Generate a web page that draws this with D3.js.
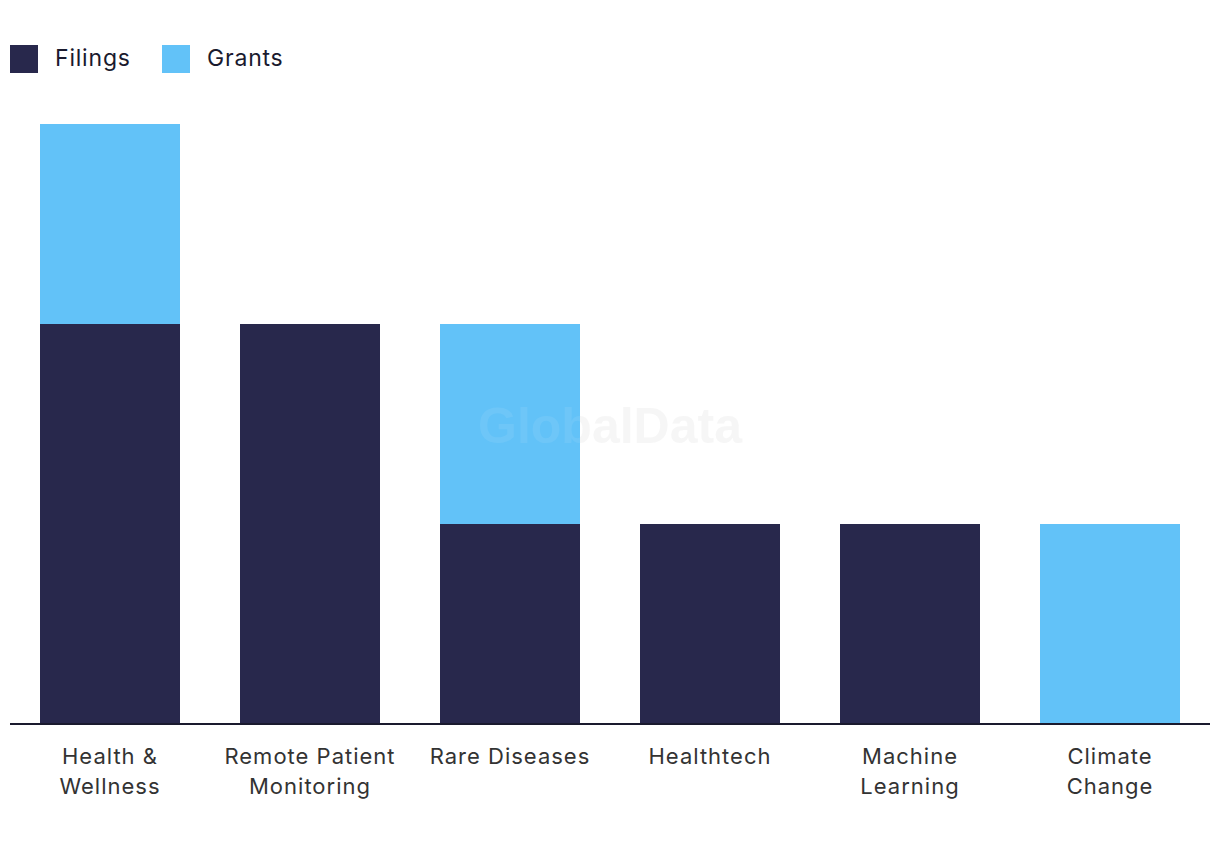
<!DOCTYPE html>
<html>
<head>
<meta charset="utf-8">
<script src="https://cdn.jsdelivr.net/npm/d3@7"></script>
<style>
  body { margin: 0; background: #fff; }
  svg { display: block; font-family: "Inter", "Open Sans", sans-serif; }
</style>
</head>
<body>
<svg id="chart" width="1220" height="850"></svg>
<script>
// Data
const categories = ["Health & Wellness", "Remote Patient Monitoring", "Rare Diseases", "Healthtech", "Machine Learning", "Climate Change"];
const categoryLines = [["Health &", "Wellness"], ["Remote Patient", "Monitoring"], ["Rare Diseases"], ["Healthtech"], ["Machine", "Learning"], ["Climate", "Change"]];
const filings = [2, 2, 1, 1, 1, 0];
const grants = [1, 0, 1, 0, 0, 1];
const seriesNames = ["Filings", "Grants"];
const colors = ["#28284c", "#62c2f8"];

const svg = d3.select("#chart");

const baseY = 724;
const topY = 124;

const rows = categories.map((c, i) => ({ cat: c, Filings: filings[i], Grants: grants[i] }));
const stacked = d3.stack().keys(seriesNames)(rows);

const x = d3.scaleBand()
    .domain(categories)
    .range([10, 1210])
    .paddingInner(0.3)
    .paddingOuter(0.15);

const y = d3.scaleLinear()
    .domain([0, d3.max(rows, d => d.Filings + d.Grants)])
    .range([baseY, topY]);

// watermark
const wm = (fill, op) => svg.append("text")
    .attr("x", 610)
    .attr("y", 443)
    .attr("text-anchor", "middle")
    .attr("font-family", "Liberation Sans, Arial, sans-serif")
    .attr("font-weight", "bold")
    .attr("font-size", 50)
    .attr("fill", fill)
    .attr("fill-opacity", op)
    .text("GlobalData");

wm("#eeeeee", 0.55);

// bars
svg.selectAll(".series")
    .data(stacked)
    .join("g")
    .attr("class", "series")
    .attr("fill", (d, i) => colors[i])
    .selectAll("rect")
    .data(d => d)
    .join("rect")
    .attr("x", d => x(d.data.cat))
    .attr("y", d => y(d[1]))
    .attr("width", x.bandwidth())
    .attr("height", d => y(d[0]) - y(d[1]));

// light watermark over the bars
wm("#ffffff", 0.08);

// x axis
const xAxis = svg.append("g")
    .attr("transform", `translate(0, ${baseY})`)
    .call(d3.axisBottom(x).tickSize(0).tickFormat(""));
xAxis.select(".domain")
    .attr("stroke", "#1a1a2e")
    .attr("stroke-width", 2)
    .attr("d", "M10,0H1210");

// category labels
const labels = svg.append("g")
    .selectAll("text")
    .data(categories)
    .join("text")
    .attr("x", d => x(d) + x.bandwidth() / 2)
    .attr("y", 764)
    .attr("text-anchor", "middle")
    .attr("font-size", 22)
    .attr("letter-spacing", 1)
    .attr("fill", "#333333");

labels.each(function(d, i) {
    d3.select(this).selectAll("tspan")
        .data(categoryLines[i])
        .join("tspan")
        .attr("x", x(d) + x.bandwidth() / 2)
        .attr("dy", (t, j) => j === 0 ? 0 : 30)
        .text(t => t);
});

// legend
const legendX = [10, 162];
const legend = svg.append("g")
    .selectAll("g")
    .data(seriesNames)
    .join("g")
    .attr("transform", (d, i) => `translate(${legendX[i]}, 45)`);

legend.append("rect")
    .attr("width", 28)
    .attr("height", 28)
    .attr("fill", (d, i) => colors[i]);

legend.append("text")
    .attr("x", 45)
    .attr("y", 21)
    .attr("font-size", 23)
    .attr("letter-spacing", 0.8)
    .attr("fill", "#1a1a2e")
    .text(d => d);
</script>
</body>
</html>
